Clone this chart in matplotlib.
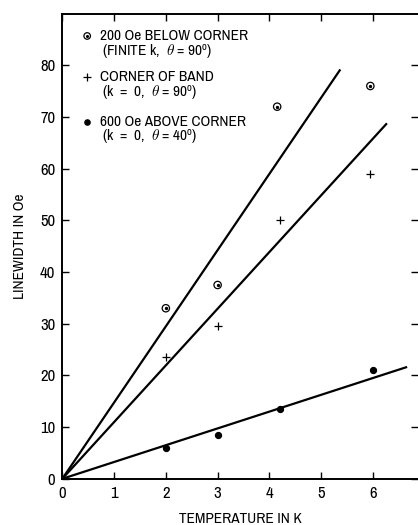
import numpy as np
import matplotlib.pyplot as plt
from matplotlib import font_manager

# data
temp_below = [2.0, 3.0, 4.15, 5.95]
width_below = [33.0, 37.5, 72.0, 76.0]
temp_corner = [2.0, 3.0, 4.2, 5.95]
width_corner = [23.5, 29.5, 50.0, 59.0]
temp_above = [2.0, 3.0, 4.2, 6.0]
width_above = [6.0, 8.5, 13.5, 21.0]

# straight lines through the origin: slope, end temperature
fit_slopes = [14.75, 10.97, 3.25]
fit_ends = [5.37, 6.27, 6.66]

legend_lines = [
    ("200 Oe BELOW CORNER", "(FINITE k,  $\\theta$ = 90$^{\\rm o}$)"),
    ("CORNER OF BAND", "(k  =  0,  $\\theta$ = 90$^{\\rm o}$)"),
    ("600 Oe ABOVE CORNER", "(k  =  0,  $\\theta$ = 40$^{\\rm o}$)"),
]

names = {f.name for f in font_manager.fontManager.ttflist}
fam = "Archivo Narrow" if "Archivo Narrow" in names else "Liberation Sans"
plt.rcParams["font.family"] = [fam, "DejaVu Sans"]
plt.rcParams["mathtext.fontset"] = "custom"
plt.rcParams["mathtext.it"] = fam + ":italic"
plt.rcParams["mathtext.rm"] = fam

fig = plt.figure(figsize=(4.18, 5.25), dpi=100)
ax = fig.add_axes([0.149, 0.088, 0.851, 0.886])

for s, e in zip(fit_slopes, fit_ends):
    xx = np.array([0, e])
    ax.plot(xx, s * xx, color="black", lw=1.6, solid_capstyle="butt")

ax.scatter(temp_below, width_below, s=28, facecolors="none",
           edgecolors="black", linewidths=0.9, zorder=3)
ax.scatter(temp_below, width_below, s=2, color="black", zorder=4)
ax.scatter(temp_corner, width_corner, s=40, marker="+", color="black",
           linewidths=0.9, zorder=3)
ax.scatter(temp_above, width_above, s=18, color="black", zorder=3)

ax.set_xlim(0, 6.87)
ax.set_ylim(0, 90)
ax.set_xticks(range(0, 7))
ax.set_yticks(range(0, 81, 10))
ax.tick_params(direction="in", length=5, width=1.0, labelsize=12,
               top=True, right=True, pad=5)
ax.spines["right"].set_visible(False)
for sp in ["left", "bottom", "top"]:
    ax.spines[sp].set_linewidth(1.4)

ax.set_xlabel("TEMPERATURE IN K", fontsize=11, labelpad=8)
ax.set_ylabel("LINEWIDTH IN Oe", fontsize=11, labelpad=9)

# legend block in the upper left
mk_x, tx_x = 0.070, 0.107
rows = [0.952, 0.863, 0.768]
for i, (l1, l2) in enumerate(legend_lines):
    y = rows[i]
    ax.text(tx_x, y, l1, transform=ax.transAxes, fontsize=11, va="center")
    ax.text(tx_x + 0.004, y - 0.035, l2, transform=ax.transAxes,
            fontsize=11, va="center")
ax.scatter([mk_x], [rows[0]], transform=ax.transAxes, s=22,
           facecolors="none", edgecolors="black", linewidths=0.9)
ax.scatter([mk_x], [rows[0]], transform=ax.transAxes, s=1.5, color="black")
ax.scatter([mk_x], [rows[1]], transform=ax.transAxes, s=36, marker="+",
           color="black", linewidths=0.9)
ax.scatter([mk_x], [rows[2]], transform=ax.transAxes, s=14, color="black")

fig.savefig("out.png", dpi=100)
